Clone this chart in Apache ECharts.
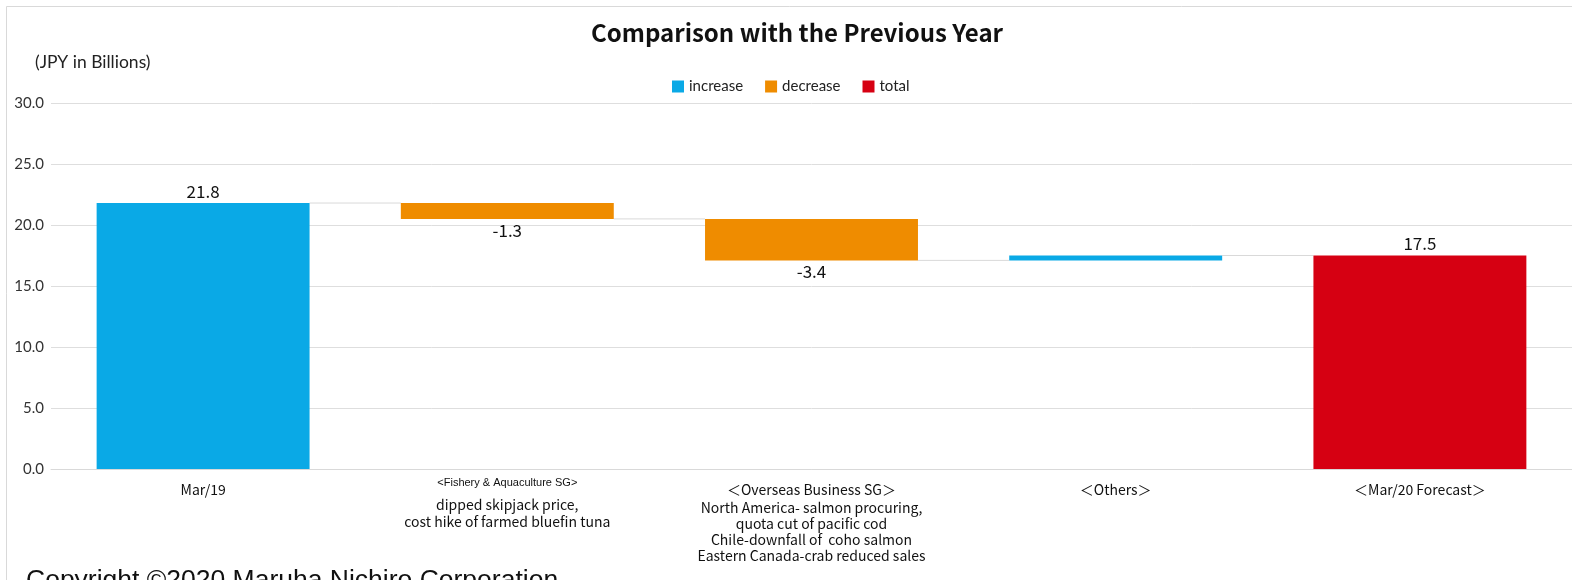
<!DOCTYPE html>
<html>
<head>
<meta charset="utf-8">
<script src="https://cdn.jsdelivr.net/npm/echarts@6/dist/echarts.min.js"></script>
<style>
  html, body { margin: 0; padding: 0; background: #fff; }
  #main { width: 1572px; height: 580px; }
</style>
</head>
<body>
<div id="main"></div>
<script>
var chartDom = document.getElementById('main');
var myChart = echarts.init(chartDom);
var option;

// data
var categories = [
  '{h|Mar/19}',
  '{fh|<Fishery & Aquaculture SG>}\n{sp| }\n{f1|dipped skipjack price,}\n{f2|cost hike of farmed bluefin tuna}',
  '{h|＜Overseas Business SG＞}\n{o|North America- salmon procuring,}\n{o|quota cut of pacific cod}\n{o|Chile-downfall of  coho salmon}\n{o|Eastern Canada-crab reduced sales}',
  '{h|＜Others＞}',
  '{h|＜Mar/20 Forecast＞}'
];
var values = [21.8, -1.3, -3.4, 0.4, 17.5];
var kinds = ['increase', 'decrease', 'decrease', 'increase', 'total'];
var showLabel = [true, true, true, false, true];
var yTicks = [0, 5, 10, 15, 20, 25, 30];

var colors = { increase: '#0AA9E6', decrease: '#EF8C00', total: '#D60012' };
var labelFont = '"Liberation Sans Narrow", "Noto Sans CJK JP", sans-serif';

// build the waterfall stacks
var baseData = [], incData = [], decData = [], totData = [], levels = [];
var running = 0;
values.forEach(function (v, i) {
  var k = kinds[i];
  if (k === 'total') {
    baseData.push(0); incData.push('-'); decData.push('-');
    totData.push({ value: v, label: { show: showLabel[i] } });
    running = v;
  } else if (v >= 0) {
    baseData.push(running); decData.push('-'); totData.push('-');
    incData.push({ value: v, label: { show: showLabel[i] } });
    running += v;
  } else {
    baseData.push(running + v); incData.push('-'); totData.push('-');
    decData.push({ value: -v, label: { show: showLabel[i] } });
    running += v;
  }
  levels.push([i, Math.round(running * 10) / 10]);
});
levels.pop();

myChart.setOption(option = {
  backgroundColor: '#fff',
  animation: false,
  title: {
    text: 'Comparison with the Previous Year',
    left: 586,
    top: 16,
    textStyle: { fontSize: 24, fontWeight: 'bold', color: '#111', fontFamily: '"Noto Sans CJK JP", sans-serif' }
  },
  legend: {
    data: ['increase', 'decrease', 'total'],
    top: 74,
    left: 667,
    itemWidth: 12,
    itemHeight: 12,
    itemGap: 22,
    icon: 'rect',
    textStyle: { fontSize: 15, color: '#222', fontFamily: 'Lato, sans-serif' }
  },
  graphic: [
    {
      type: 'rect',
      shape: { x: 6.5, y: 6.5, width: 1600, height: 620 },
      style: { fill: 'none', stroke: '#d9d9d9', lineWidth: 1 },
      silent: true
    },
    {
      type: 'text',
      left: 35, top: 53,
      style: { text: '(JPY in Billions)', fontSize: 17.5, fill: '#222', fontFamily: 'Lato, sans-serif' }
    },
    {
      type: 'text',
      left: 26, top: 567,
      style: { text: 'Copyright ©2020 Maruha Nichiro Corporation', fontSize: 26.5, fill: '#111', fontFamily: '"Liberation Sans", Arial, sans-serif' }
    }
  ],
  grid: { left: 51, right: 0, top: 103, bottom: 111, containLabel: false },
  xAxis: {
    type: 'category',
    data: categories,
    axisLine: { lineStyle: { color: '#d9d9d9' } },
    axisTick: { show: false },
    axisLabel: {
      interval: 0,
      margin: 11,
      color: '#111',
      rich: {
        h: { fontSize: 14, lineHeight: 20, fontFamily: labelFont, color: '#111' },
        o: { fontSize: 14, lineHeight: 16, fontFamily: labelFont, color: '#111' },
        fh: { fontSize: 11, lineHeight: 6, fontFamily: '"Liberation Sans", Arial, sans-serif', color: '#111' },
        sp: { fontSize: 4, lineHeight: 10, color: '#fff' },
        f1: { fontSize: 14, lineHeight: 17, fontFamily: labelFont, color: '#111' },
        f2: { fontSize: 14, lineHeight: 17, fontFamily: labelFont, color: '#111' }
      }
    }
  },
  yAxis: {
    type: 'value',
    min: 0,
    max: 30,
    interval: 5,
    axisLine: { show: false },
    axisTick: { show: false },
    splitLine: { lineStyle: { color: '#dedede' } },
    axisLabel: {
      margin: 7,
      fontSize: 15,
      color: '#333',
      fontFamily: 'Lato, sans-serif',
      formatter: function (v) { return yTicks.indexOf(v) >= 0 ? v.toFixed(1) : ''; }
    }
  },
  series: [
    {
      name: 'base',
      type: 'bar',
      stack: 'wf',
      barWidth: '70%',
      itemStyle: { color: 'transparent' },
      emphasis: { disabled: true },
      data: baseData
    },
    {
      name: 'increase',
      type: 'bar',
      stack: 'wf',
      itemStyle: { color: colors.increase },
      label: {
        show: true, position: 'top', distance: 3,
        fontSize: 17, color: '#111', fontFamily: labelFont,
        formatter: function (p) { return p.value.toFixed(1); }
      },
      data: incData
    },
    {
      name: 'decrease',
      type: 'bar',
      stack: 'wf',
      itemStyle: { color: colors.decrease },
      label: {
        show: true, position: 'bottom', distance: 3,
        fontSize: 17, color: '#111', fontFamily: labelFont,
        formatter: function (p) { return '-' + p.value.toFixed(1); }
      },
      data: decData
    },
    {
      name: 'total',
      type: 'bar',
      stack: 'wf',
      itemStyle: { color: colors.total },
      label: {
        show: true, position: 'top', distance: 3,
        fontSize: 17, color: '#111', fontFamily: labelFont,
        formatter: function (p) { return p.value.toFixed(1); }
      },
      data: totData
    },
    {
      name: 'connector',
      type: 'custom',
      silent: true,
      z: 1,
      data: levels,
      renderItem: function (params, api) {
        var i = api.value(0);
        var lvl = api.value(1);
        var band = api.size([1, 0])[0];
        var half = band * 0.35;
        var p1 = api.coord([i, lvl]);
        var p2 = api.coord([i + 1, lvl]);
        return {
          type: 'line',
          shape: { x1: p1[0] + half, y1: p1[1], x2: p2[0] - half, y2: p2[1] },
          style: { stroke: '#d9d9d9', lineWidth: 1 }
        };
      }
    }
  ]
});

option && myChart.setOption(option);
</script>
</body>
</html>
